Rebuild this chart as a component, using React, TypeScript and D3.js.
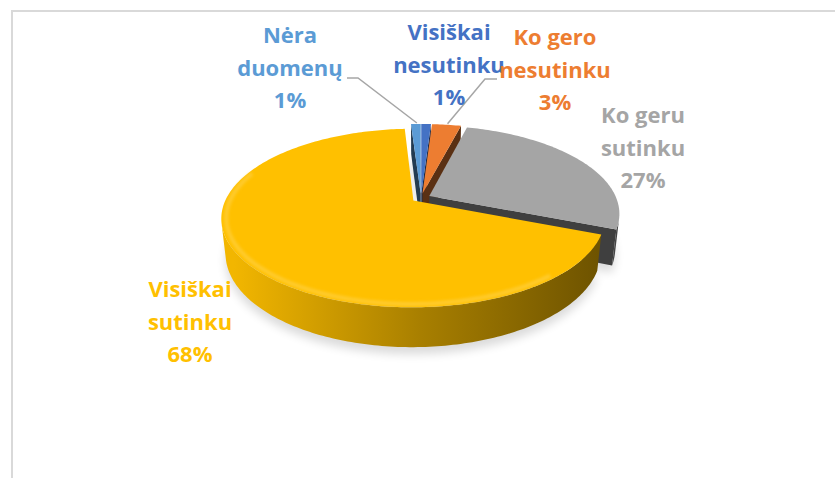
import React from "react";
import * as d3 from "d3";

// data (clockwise from 12 o'clock)
const categories = ["Visiškai nesutinku", "Ko gero nesutinku", "Ko geru sutinku", "Visiškai sutinku", "Nėra duomenų"];
const values = [1, 3, 27, 68, 1];
const percentLabels = ["1%", "3%", "27%", "68%", "1%"];
const colors = ["#4472C4", "#ED7D31", "#A5A5A5", "#FFC000", "#5B9BD5"];
// how the category names wrap in the labels
const labelLines = [
  ["Visiškai", "nesutinku"],
  ["Ko gero", "nesutinku"],
  ["Ko geru", "sutinku"],
  ["Visiškai", "sutinku"],
  ["Nėra", "duomenų"],
];

const W = 835;
const H = 478;

// 3d pie camera setup
const cx = 421;
const cy = 198;
const K = 187; // px per radius at centre depth
const D = 4.58; // camera distance in radii
const tilt = (27 * Math.PI) / 180;
const thick = 0.21;
const explode = 0.05;
const sinT = Math.sin(tilt);
const cosT = Math.cos(tilt);
const cam = { X: 0, Y: D * sinT, Z: D * cosT };

type P3 = { X: number; Y: number; Z: number };

function depthOf(p: P3) {
  return D - p.Y * sinT - p.Z * cosT;
}
function project(p: P3): [number, number] {
  const dep = depthOf(p);
  const yc = p.Y * cosT - p.Z * sinT;
  return [cx + (K * D * p.X) / dep, cy - (K * D * yc) / dep];
}
function visible(p: P3, n: P3) {
  return (cam.X - p.X) * n.X + (cam.Y - p.Y) * n.Y + (cam.Z - p.Z) * n.Z > 0;
}
function shade(c: string, k: number) {
  const r = d3.rgb(c);
  return d3.rgb(r.r * k, r.g * k, r.b * k).formatHex();
}

const line = d3.line<[number, number]>();

type Face = { d: string; fill: string; depth: number };

function buildChart() {
  const arcs = d3.pie<number>().sort(null).value((d) => d)(values);
  const sides: Face[] = [];
  const tops: Face[] = [];
  const bottoms: string[] = [];
  const rims: { d: string; color: string }[] = [];
  const anchors: [number, number][] = [];

  arcs.forEach((a, i) => {
    const a0 = a.startAngle;
    const a1 = a.endAngle;
    const m = (a0 + a1) / 2;
    const ox = explode * Math.sin(m);
    const oz = -explode * Math.cos(m);
    const pt = (ang: number, r: number, Y: number): P3 => ({
      X: ox + r * Math.sin(ang),
      Y,
      Z: oz - r * Math.cos(ang),
    });
    const n = Math.max(2, Math.ceil((a1 - a0) / (Math.PI / 180)));
    const angs = d3.range(n + 1).map((j) => a0 + ((a1 - a0) * j) / n);
    const avgDepth = (ps: P3[]) => d3.mean(ps, depthOf) as number;

    // top face
    const topPts = [pt(0, 0, 0), ...angs.map((t) => pt(t, 1, 0))];
    tops.push({ d: line(topPts.map(project)) + "Z", fill: colors[i], depth: 0 });
    const botPts = [pt(0, 0, -thick), ...angs.map((t) => pt(t, 1, -thick))];
    bottoms.push(line(botPts.map(project)) + "Z");

    // outer wall, only the runs that face the camera
    let run: number[] = [];
    const flush = () => {
      if (run.length < 2) {
        run = [];
        return;
      }
      const up = run.map((t) => pt(t, 1, 0));
      const dn = run.map((t) => pt(t, 1, -thick)).reverse();
      const ps = [...up, ...dn];
      sides.push({ d: line(ps.map(project)) + "Z", fill: `url(#side${i})`, depth: avgDepth(ps) });
      run = [];
    };
    for (let j = 0; j < n; j++) {
      const t = (angs[j] + angs[j + 1]) / 2;
      const ok = visible(pt(t, 1, -thick / 2), { X: Math.sin(t), Y: 0, Z: -Math.cos(t) });
      if (ok) {
        if (run.length === 0) run.push(angs[j]);
        run.push(angs[j + 1]);
      } else flush();
    }
    flush();

    // radial cut faces
    const radial = (t: number, nrm: P3) => {
      const ps = [pt(0, 0, 0), pt(t, 1, 0), pt(t, 1, -thick), pt(0, 0, -thick)];
      if (visible(pt(t, 0.5, -thick / 2), nrm)) {
        sides.push({ d: line(ps.map(project)) + "Z", fill: shade(colors[i], 0.38), depth: avgDepth(ps) });
      }
    };
    radial(a0, { X: -Math.cos(a0), Y: 0, Z: -Math.sin(a0) });
    radial(a1, { X: Math.cos(a1), Y: 0, Z: Math.sin(a1) });

    // soft bevel on the front rim
    const lo = Math.max(a0, (140 * Math.PI) / 180);
    const hi = Math.min(a1, (290 * Math.PI) / 180);
    if (hi > lo) {
      const rr = d3.range(0, 1.0001, 0.01).map((k) => pt(lo + (hi - lo) * k, 0.975, 0));
      rims.push({ d: line(rr.map(project)) as string, color: d3.interpolateRgb(colors[i], "#ffffff")(0.3) });
    }

    const tip = project(pt(m, 1.0, 0));
    anchors.push([tip[0] + 1, tip[1] - 1]);
  });

  sides.sort((p, q) => q.depth - p.depth);
  return { sides, tops, bottoms, rims, anchors };
}

// label spots (centre x, first baseline)
const labelPos: [number, number][] = [
  [449, 40],
  [555, 45],
  [643, 123],
  [190, 297],
  [290, 43],
];
const lineGap = 32.5;

export default function App() {
  const { sides, tops, bottoms, rims, anchors } = buildChart();

  const leaders: [number, number][][] = [
    [[497, 79], [485, 79], anchors[1]],
    [[347, 78], [358, 78], anchors[4]],
  ];

  return (
    <svg
      width={W}
      height={H}
      style={{ position: "absolute", left: 0, top: 0, background: "#ffffff" }}
    >
      <defs>
        {colors.map((c, i) => (
          <linearGradient key={i} id={`side${i}`} gradientUnits="userSpaceOnUse" x1={cx - K} x2={cx + K} y1={0} y2={0}>
            <stop offset="0" stopColor={shade(c, 0.95)} />
            <stop offset="0.5" stopColor={shade(c, 0.66)} />
            <stop offset="1" stopColor={shade(c, 0.42)} />
          </linearGradient>
        ))}
        <filter id="blurShadow" x="-20%" y="-20%" width="140%" height="140%">
          <feGaussianBlur stdDeviation="5" />
        </filter>
        <filter id="blurRim">
          <feGaussianBlur stdDeviation="1.8" />
        </filter>
      </defs>

      <rect x={12} y={11} width={W + 50} height={H + 50} fill="#ffffff" stroke="#D9D9D9" strokeWidth={2} />

      <g transform="translate(0,7)" filter="url(#blurShadow)" opacity={0.14}>
        {bottoms.map((d, i) => (
          <path key={i} d={d} fill="#000" />
        ))}
      </g>

      {sides.map((f, i) => (
        <path key={i} d={f.d} fill={f.fill} />
      ))}
      {tops.map((f, i) => (
        <path key={i} d={f.d} fill={f.fill} />
      ))}
      {rims.map((r, i) => (
        <path key={i} d={r.d} fill="none" stroke={r.color} strokeWidth={4} opacity={0.6} filter="url(#blurRim)" />
      ))}

      {leaders.map((pts, i) => (
        <path key={i} d={line(pts) as string} fill="none" stroke="#A6A6A6" strokeWidth={1.5} />
      ))}

      {categories.map((name, i) => (
        <text
          key={name}
          x={labelPos[i][0]}
          y={labelPos[i][1]}
          textAnchor="middle"
          fontFamily="'Open Sans', sans-serif"
          fontWeight={700}
          fontSize={22}
          fill={colors[i]}
        >
          {[...labelLines[i], percentLabels[i]].map((t, k) => (
            <tspan key={k} x={labelPos[i][0]} y={labelPos[i][1] + k * lineGap}>
              {t}
            </tspan>
          ))}
        </text>
      ))}
    </svg>
  );
}
